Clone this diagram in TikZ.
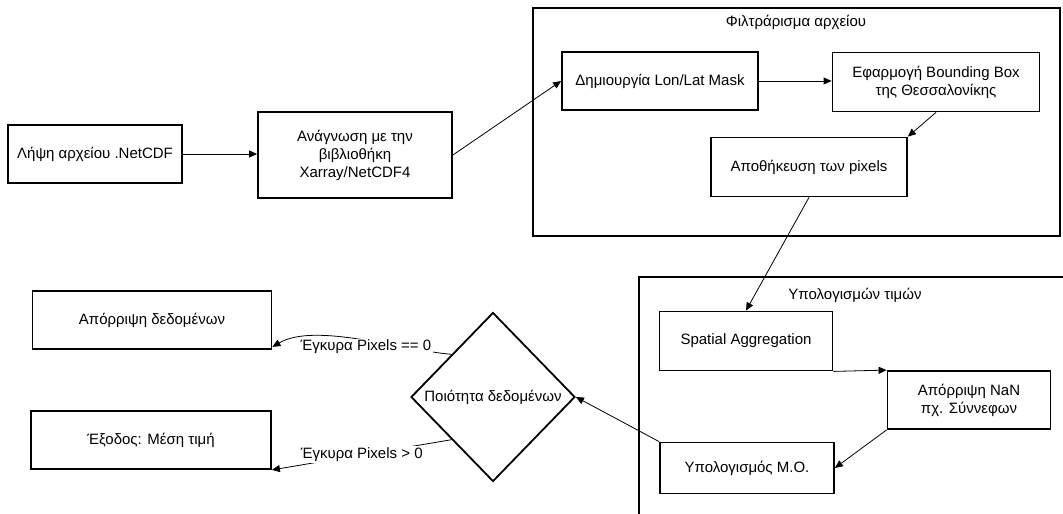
\documentclass[tikz,border=0pt]{standalone}
\usepackage{fontspec}
\setmainfont{Liberation Sans}
\usetikzlibrary{shapes.geometric,arrows.meta}

\begin{document}
\begin{tikzpicture}[x=1pt,y=-1pt,
		every node/.style={font=\fontsize{15}{18}\selectfont},
		block/.style={draw, line width=1.8pt, align=center, inner sep=0pt},
		group/.style={draw, line width=1.8pt},
		decision/.style={draw, diamond, line width=1.8pt, inner sep=0pt},
		flow/.style={-{Triangle[length=8pt,width=7pt]}, line width=0.8pt},
		cond/.style={fill=white, inner sep=1.5pt}]
		\useasboundingbox (0,0) rectangle (1063,514);

		% Draw the two group frames and their titles
		\draw[group] (533,8) rectangle (1060,236);
		\node (filtertitle) at (796,22) {Φιλτράρισμα αρχείου};
		\draw[group] (639,277) rectangle (1080,530);
		\node (calctitle) at (855,295) {Υπολογισμών τιμών};

		% Draw the process boxes
		\node[block, minimum width=174pt, minimum height=58pt] (fetch) at (95,154) {Λήψη αρχείου .NetCDF};
		\node[block, minimum width=194pt, minimum height=86pt] (read) at (355,155) {Ανάγνωση με την\\βιβλιοθήκη\\Xarray/NetCDF4};
		\node[block, minimum width=196pt, minimum height=58pt] (mask) at (660,81) {Δημιουργία Lon/Lat Mask};
		\node[block, minimum width=207pt, minimum height=59pt] (bbox) at (936,82) {Εφαρμογή Bounding Box\\της Θεσσαλονίκης};
		\node[block, minimum width=196pt, minimum height=59pt] (store) at (809,167) {Αποθήκευση των pixels};
		\node[block, minimum width=173pt, minimum height=59pt] (spatial) at (746,341) {Spatial Aggregation};
		\node[block, minimum width=163pt, minimum height=58pt] (nan) at (969,400) {Απόρριψη NaN\\πχ. Σύννεφων};
		\node[block, minimum width=174pt, minimum height=51pt] (mean) at (747,468) {Υπολογισμός Μ.Ο.};
		\node[decision, minimum width=164pt, minimum height=169pt] (quality) at (493,397) {\makebox[0pt]{Ποιότητα δεδομένων}};
		\node[block, minimum width=239pt, minimum height=58pt] (reject) at (152,320) {Απόρριψη δεδομένων};
		\node[block, minimum width=240pt, minimum height=58pt] (output) at (151,440) {Έξοδος: Μέση τιμή};

		% Draw the arrows between the steps
		\draw[flow] (fetch.east) -- (fetch.east -| read.west);
		\draw[flow] (read.east) -- (mask.west);
		\draw[flow] (mask.east) -- (mask.east -| bbox.west);
		\draw[flow] (bbox.south) -- (store.north east);
		\draw[flow] (store.south) -- (spatial.north);
		\draw[flow] (spatial.south east) -- (nan.north west);
		\draw[flow] (nan.south west) -- (mean.east);
		\draw[flow] (mean.north west) -- (quality.east);

		% Draw the two outcomes of the quality check
		\draw[flow] (quality.north west) .. controls (400,350) and (315,322) .. ([yshift=3pt]reject.south east);
		\node[cond] (zerolabel) at (366,347) {Έγκυρα Pixels == 0};
		\draw[flow] (quality.south west) -- (output.south east) node[cond, pos=0.5] (poslabel) {Έγκυρα Pixels > 0};
\end{tikzpicture}
\end{document}
